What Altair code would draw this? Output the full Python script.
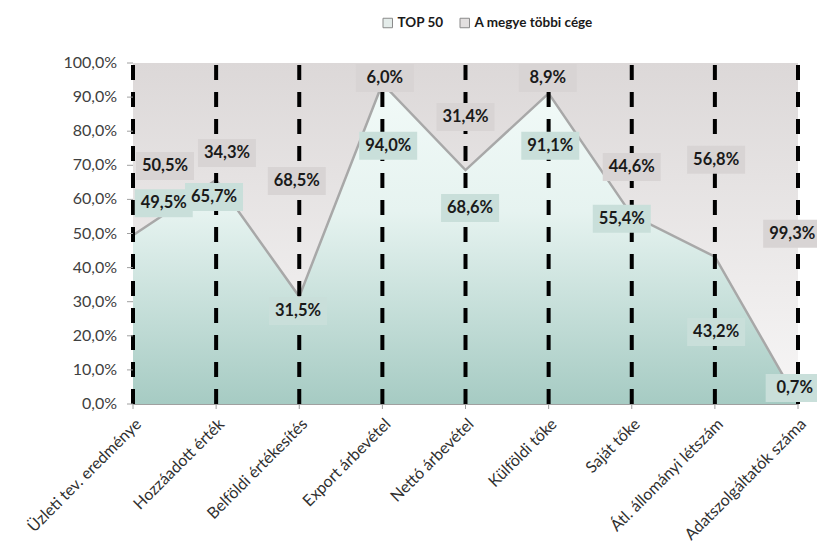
import altair as alt
import pandas as pd

categories = ["Üzleti tev. eredménye", "Hozzáadott érték", "Belföldi értékesítés",
              "Export árbevétel", "Nettó árbevétel", "Külföldi tőke", "Saját tőke",
              "Átl. állományi létszám", "Adatszolgáltatók száma"]
top50 = [49.5, 65.7, 31.5, 94.0, 68.6, 91.1, 55.4, 43.2, 0.7]
others = [50.5, 34.3, 68.5, 6.0, 31.4, 8.9, 44.6, 56.8, 99.3]
series_names = ["TOP 50", "A megye többi cége"]
y_ticks = [0, 10, 20, 30, 40, 50, 60, 70, 80, 90, 100]

# label anchor points (category index, percent)
top50_label_x = [0.37, 0.975, 1.985, 3.07, 4.055, 5.02, 5.88, 7.015, 7.96]
top50_label_y = [58.9, 60.7, 27.3, 75.7, 57.5, 75.7, 54.3, 21.1, 4.7]
others_label_x = [0.385, 1.13, 1.97, 3.03, 4.0, 4.99, 6.0, 7.015, 7.93]
others_label_y = [69.8, 73.6, 65.4, 95.6, 84.2, 95.6, 69.5, 71.6, 49.9]

idx = list(range(len(categories)))
df = pd.DataFrame({"i": idx, "cat": categories, "top": top50, "oth": others,
                   "full": [t + o for t, o in zip(top50, others)]})

def fmt(v):
    return f"{v:.1f}".replace(".", ",") + "%"

lab_top = pd.DataFrame({"x": top50_label_x, "y": top50_label_y, "t": [fmt(v) for v in top50]})
lab_oth = pd.DataFrame({"x": others_label_x, "y": others_label_y, "t": [fmt(v) for v in others]})
yt = pd.DataFrame({"v": y_ticks, "t": [fmt(v) for v in y_ticks]})
leg = pd.DataFrame({"s": series_names, "i": [0, 0], "v": [0, 0]})

FONT = "Lato"
H = 341
xs = alt.Scale(domain=[0, 8], nice=False, zero=False)
ys = alt.Scale(domain=[0, 100], nice=False)

AX = alt.Axis(labels=False, ticks=False, grid=False, title=None, domainColor="#a0a0a0")
X = lambda f: alt.X(f, scale=xs, axis=AX)
Y = lambda f: alt.Y(f, scale=ys, axis=AX)

base = alt.Chart(df)

other_area = base.mark_area(
    color={"gradient": "linear", "x1": 0, "y1": 0, "x2": 0, "y2": 1,
           "stops": [{"offset": 0, "color": "#dcd8d8"}, {"offset": 1, "color": "#f7f6f6"}]}
).encode(x=X("i:Q"), y=Y("full:Q"), y2="top:Q")

top_area = base.mark_area(
    color={"gradient": "linear", "x1": 0, "y1": 0, "x2": 0, "y2": 1,
           "stops": [{"offset": 0, "color": "#f2faf8"}, {"offset": 0.4, "color": "#e6f3f0"},
                     {"offset": 1, "color": "#a6cbc3"}]}
).encode(x=X("i:Q"), y=Y("top:Q"), y2=alt.datum(0))

edge = base.mark_line(color="#a8a8a8", strokeWidth=2.5).encode(x=X("i:Q"), y=Y("top:Q"))

rules = base.mark_rule(color="#000000", strokeWidth=4, strokeDash=[15, 12]).encode(
    x=X("i:Q"), y=alt.YDatum(0, scale=ys, axis=AX), y2=alt.datum(100))

# x axis ticks and labels
x_ticks = base.mark_rule(color="#a0a0a0", strokeWidth=1).encode(
    x=X("i:Q"), y=alt.value(H), y2=alt.value(H + 5))
x_labels = base.mark_text(font=FONT, fontSize=16, color="#303030", angle=315,
                          align="right", baseline="top").encode(
    x=X("i:Q"), y=alt.value(H + 12), text="cat:N")

# y axis ticks and labels
y_tick_marks = alt.Chart(yt).mark_rule(color="#a0a0a0", strokeWidth=1).encode(
    y=Y("v:Q"), x=alt.value(-6), x2=alt.value(0))
y_labels = alt.Chart(yt).mark_text(font=FONT, fontSize=16, color="#404040",
                                   align="right", baseline="middle").encode(
    y=Y("v:Q"), x=alt.value(-16), text="t:N")

def boxes(d, fill):
    r = alt.Chart(d).mark_rect(width=58, height=28, color=fill).encode(
        x=X("x:Q"), y=Y("y:Q"))
    t = alt.Chart(d).mark_text(font=FONT, fontSize=16.5, fontWeight="bold", color="#1a1a1a",
                               align="center", baseline="middle").encode(
        x=X("x:Q"), y=Y("y:Q"), text="t:N")
    return r + t

legend_layer = alt.Chart(leg).mark_square(opacity=0, size=0).encode(
    x=X("i:Q"), y=Y("v:Q"),
    color=alt.Color("s:N", scale=alt.Scale(domain=series_names, range=["#e4ecea", "#e2dfdf"]),
                    legend=alt.Legend(orient="none", legendX=248, legendY=-47, direction="horizontal",
                                      title=None, symbolType="square", symbolSize=90,
                                      symbolOpacity=1, symbolStrokeColor="#8a8a8a",
                                      symbolStrokeWidth=1, labelFont=FONT, labelFontSize=13.5,
                                      labelFontWeight="bold", labelColor="#1a1a1a",
                                      columnPadding=14, labelOffset=3)))

chart = alt.layer(
    other_area, top_area, edge, rules, x_ticks, x_labels, y_tick_marks, y_labels,
    boxes(lab_oth, "#d8d4d4"), boxes(lab_top, "#c9dfda"), legend_layer
).properties(
    width=665, height=H,
    autosize=alt.AutoSizeParams(type="none"),
    padding={"left": 125, "top": 55, "right": 19, "bottom": 147},
    background="white"
).configure_view(stroke=None)

chart.save("out.html", embed_options={"renderer": "svg", "actions": False})
